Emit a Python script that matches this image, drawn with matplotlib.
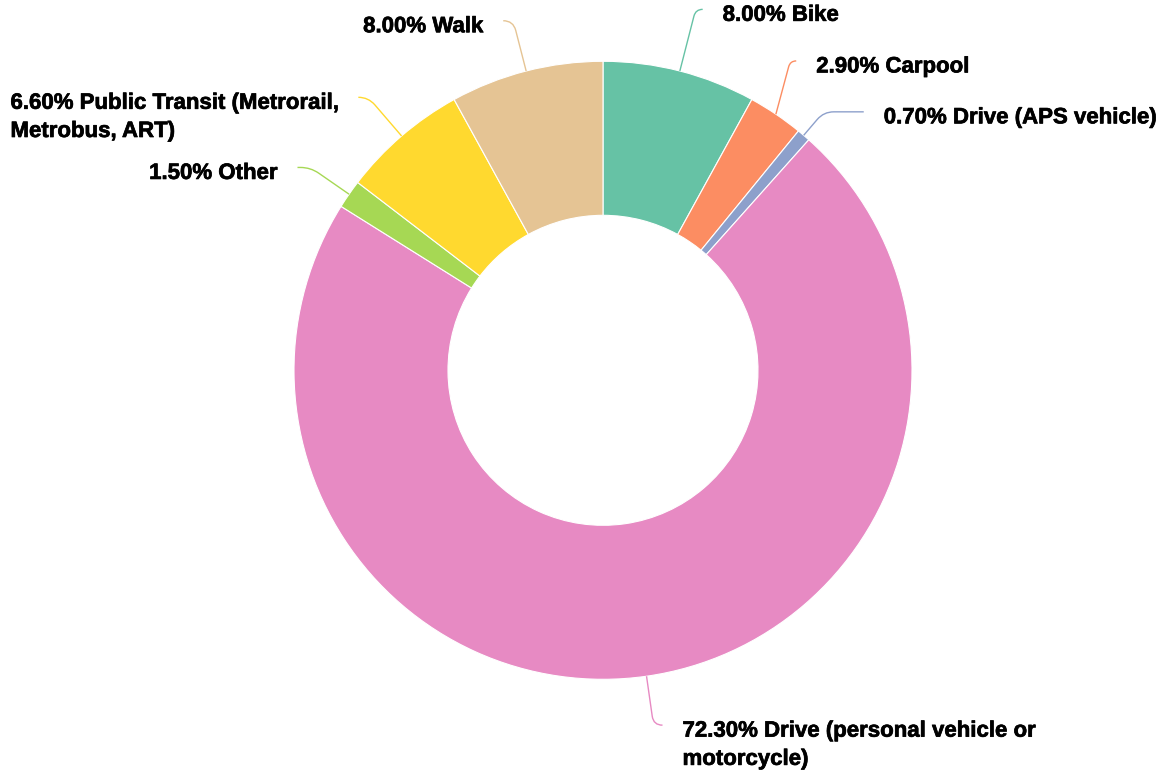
import numpy as np
import matplotlib
matplotlib.use("Agg")
import matplotlib.pyplot as plt
from matplotlib.path import Path
from matplotlib.patches import PathPatch
import matplotlib.patheffects as pe

# ---- data ----
categories = ["Bike", "Carpool", "Drive (APS vehicle)",
              "Drive (personal vehicle or\nmotorcycle)", "Other",
              "Public Transit (Metrorail,\nMetrobus, ART)", "Walk"]
values = [8.0, 2.9, 0.7, 72.3, 1.5, 6.6, 8.0]
colors = ["#66c2a5", "#fc8d62", "#8da0cb", "#e78ac3",
          "#a6d854", "#ffd92f", "#e5c494"]

# ---- label layout (elbow radius factor, horizontal run px, vertical shift px) ----
elbow_k = [1.206, 1.083, 1.10, 1.16, 1.152, 1.165, 1.168]
run_h = [7, 6, 40, 9, 13, 10, 10]
shift_y = [0, 32, 0, 0, 0, 0, 0]

W, H = 1158, 772
fig = plt.figure(figsize=(W / 100, H / 100), dpi=100)
ax = fig.add_axes([0, 0, 1, 1])

cx, cy = 603, H - 370.3
R = 309
ring = 154

ax.pie(values, colors=colors, startangle=90, counterclock=False,
       radius=R, center=(cx, cy),
       wedgeprops=dict(width=ring, edgecolor="white", linewidth=0.8))

total = sum(values)
cum = np.cumsum(values)
for i, (cat, v) in enumerate(zip(categories, values)):
    theta = 2 * np.pi * (cum[i] - v / 2) / total
    d = np.array([np.sin(theta), np.cos(theta)])
    C = np.array([cx, cy])
    S = C + R * d
    M = C + elbow_k[i] * R * d + np.array([0, shift_y[i]])
    side = 1 if d[0] > 0 else -1
    E = M + np.array([side * run_h[i], 0])
    seg = M - S
    L = np.linalg.norm(seg)
    u1 = seg / L
    r = min(10, run_h[i], L / 2)
    P1 = M - r * u1
    P2 = M + np.array([side * r, 0])
    path = Path([S, P1, M, P2, E],
                [Path.MOVETO, Path.LINETO, Path.CURVE3, Path.CURVE3, Path.LINETO])
    ax.add_patch(PathPatch(path, facecolor="none", edgecolor=colors[i], lw=1.0))
    ax.text(E[0] + side * 20, E[1] + 4.5, f"{v:.2f}% {cat}",
            ha="left" if side > 0 else "right", va="top",
            multialignment="left", linespacing=1.45, fontsize=16, fontweight="bold",
            family=["Liberation Sans", "DejaVu Sans"], color="#000000",
            path_effects=[pe.withStroke(linewidth=0.5, foreground="#000000")])

ax.set_xlim(0, W)
ax.set_ylim(0, H)
ax.set_aspect("equal")
ax.axis("off")
fig.savefig("out.png", dpi=100)
